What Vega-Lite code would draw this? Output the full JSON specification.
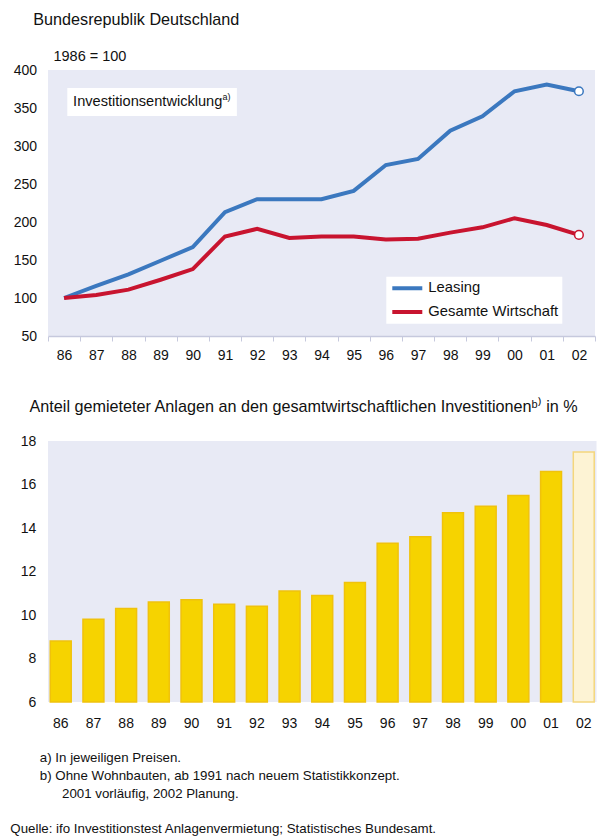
{
  "$schema": "https://vega.github.io/schema/vega-lite/v6.json",
  "background": "white",
  "padding": {"left": 10, "top": 12, "right": 0, "bottom": 4},
  "config": {
    "font": "Liberation Sans",
    "view": {"fill": "#e8eaf5", "stroke": null},
    "axis": {"labelColor": "#111111", "labelFontSize": 14, "grid": false, "title": null, "labelOverlap": false, "labelFlush": false},
    "title": {"color": "#111111", "subtitleColor": "#111111", "fontWeight": "normal"}
  },
  "datasets": {
    "index": [
      {"year": 1986, "serie": "Leasing", "value": 100},
      {"year": 1987, "serie": "Leasing", "value": 116},
      {"year": 1988, "serie": "Leasing", "value": 131},
      {"year": 1989, "serie": "Leasing", "value": 149},
      {"year": 1990, "serie": "Leasing", "value": 167},
      {"year": 1991, "serie": "Leasing", "value": 213},
      {"year": 1992, "serie": "Leasing", "value": 230},
      {"year": 1993, "serie": "Leasing", "value": 230},
      {"year": 1994, "serie": "Leasing", "value": 230},
      {"year": 1995, "serie": "Leasing", "value": 241},
      {"year": 1996, "serie": "Leasing", "value": 275},
      {"year": 1997, "serie": "Leasing", "value": 283},
      {"year": 1998, "serie": "Leasing", "value": 320},
      {"year": 1999, "serie": "Leasing", "value": 339},
      {"year": 2000, "serie": "Leasing", "value": 372},
      {"year": 2001, "serie": "Leasing", "value": 381},
      {"year": 2002, "serie": "Leasing", "value": 372},
      {"year": 1986, "serie": "Gesamte Wirtschaft", "value": 100},
      {"year": 1987, "serie": "Gesamte Wirtschaft", "value": 104},
      {"year": 1988, "serie": "Gesamte Wirtschaft", "value": 111},
      {"year": 1989, "serie": "Gesamte Wirtschaft", "value": 124},
      {"year": 1990, "serie": "Gesamte Wirtschaft", "value": 138},
      {"year": 1991, "serie": "Gesamte Wirtschaft", "value": 181},
      {"year": 1992, "serie": "Gesamte Wirtschaft", "value": 191},
      {"year": 1993, "serie": "Gesamte Wirtschaft", "value": 179},
      {"year": 1994, "serie": "Gesamte Wirtschaft", "value": 181},
      {"year": 1995, "serie": "Gesamte Wirtschaft", "value": 181},
      {"year": 1996, "serie": "Gesamte Wirtschaft", "value": 177},
      {"year": 1997, "serie": "Gesamte Wirtschaft", "value": 178},
      {"year": 1998, "serie": "Gesamte Wirtschaft", "value": 186},
      {"year": 1999, "serie": "Gesamte Wirtschaft", "value": 193},
      {"year": 2000, "serie": "Gesamte Wirtschaft", "value": 205},
      {"year": 2001, "serie": "Gesamte Wirtschaft", "value": 196},
      {"year": 2002, "serie": "Gesamte Wirtschaft", "value": 183}
    ],
    "anteil": [
      {"year": 1986, "value": 8.8, "typ": "Ist"},
      {"year": 1987, "value": 9.8, "typ": "Ist"},
      {"year": 1988, "value": 10.3, "typ": "Ist"},
      {"year": 1989, "value": 10.6, "typ": "Ist"},
      {"year": 1990, "value": 10.7, "typ": "Ist"},
      {"year": 1991, "value": 10.5, "typ": "Ist"},
      {"year": 1992, "value": 10.4, "typ": "Ist"},
      {"year": 1993, "value": 11.1, "typ": "Ist"},
      {"year": 1994, "value": 10.9, "typ": "Ist"},
      {"year": 1995, "value": 11.5, "typ": "Ist"},
      {"year": 1996, "value": 13.3, "typ": "Ist"},
      {"year": 1997, "value": 13.6, "typ": "Ist"},
      {"year": 1998, "value": 14.7, "typ": "Ist"},
      {"year": 1999, "value": 15.0, "typ": "Ist"},
      {"year": 2000, "value": 15.5, "typ": "Ist"},
      {"year": 2001, "value": 16.6, "typ": "Ist"},
      {"year": 2002, "value": 17.5, "typ": "Planung"}
    ]
  },
  "title": {
    "text": [
      "\u200b\u00a0\u00a0\u00a0\u00a0\u00a0\u00a0\u00a0\u00a0a) In jeweiligen Preisen.",
      "\u200b\u00a0\u00a0\u00a0\u00a0\u00a0\u00a0\u00a0\u00a0b) Ohne Wohnbauten, ab 1991 nach neuem Statistikkonzept.",
      "\u200b\u00a0\u00a0\u00a0\u00a0\u00a0\u00a0\u00a0\u00a0\u00a0\u00a0\u00a0\u00a0\u00a0\u00a02001 vorläufig, 2002 Planung.",
      "\u200b\u00a0",
      "Quelle: ifo Investitionstest Anlagenvermietung; Statistisches Bundesamt."
    ],
    "orient": "bottom",
    "anchor": "start",
    "frame": "bounds",
    "dx": -2.7,
    "offset": 21,
    "fontSize": 13.3,
    "lineHeight": 17.8
  },
  "spacing": 36,
  "vconcat": [
    {
      "width": 547,
      "height": 266,
      "title": {
        "text": "Bundesrepublik Deutschland",
        "subtitle": "\u200b\u00a0\u00a0\u00a0\u00a0\u00a01986 = 100",
        "anchor": "start",
        "frame": "group",
        "dx": -14.7,
        "fontSize": 16.2,
        "subtitleFontSize": 14.5,
        "subtitlePadding": 21,
        "offset": 0
      },
      "layer": [
        {
          "data": {"name": "index"},
          "mark": {"type": "line", "strokeWidth": 4},
          "encoding": {
            "x": {
              "field": "year", "type": "quantitative",
              "scale": {"domain": [1985.5, 2002.5], "nice": false, "zero": false},
              "axis": {
                "values": [1985.5, 1986, 1986.5, 1987, 1987.5, 1988, 1988.5, 1989, 1989.5, 1990, 1990.5, 1991, 1991.5, 1992, 1992.5, 1993, 1993.5, 1994, 1994.5, 1995, 1995.5, 1996, 1996.5, 1997, 1997.5, 1998, 1998.5, 1999, 1999.5, 2000, 2000.5, 2001, 2001.5, 2002, 2002.5],
                "tickCount": 100,
                "labelExpr": "datum.value % 1 == 0 ? format(datum.value % 100, '02d') : ''",
                "tickOpacity": {"condition": {"test": "datum.value % 1 != 0", "value": 1}, "value": 0},
                "tickSize": 5,
                "tickColor": "#c6c9dd",
                "domainColor": "#c6c9dd",
                "domainWidth": 1.5,
                "labelPadding": 7,
                "labelOverlap": false,
                "labelFlush": false
              }
            },
            "y": {
              "field": "value", "type": "quantitative",
              "scale": {"domain": [50, 400], "nice": false, "zero": false},
              "axis": {
                "values": [50, 100, 150, 200, 250, 300, 350, 400],
                "tickCount": 100,
                "format": "d",
                "domain": false, "ticks": false, "labelOverlap": false,
                "labelPadding": 11.5, "minExtent": 35, "maxExtent": 35
              }
            },
            "color": {
              "field": "serie", "type": "nominal",
              "scale": {"domain": ["Leasing", "Gesamte Wirtschaft"], "range": ["#3b78bf", "#c8142f"]},
              "legend": {
                "title": null,
                "orient": "none",
                "legendX": 338.3,
                "legendY": 206.7,
                "fillColor": "white",
                "padding": 4,
                "symbolType": "stroke",
                "symbolSize": 900,
                "symbolStrokeWidth": 4,
                "clipHeight": 15,
                "rowPadding": 7.7,
                "labelFontSize": 14.8,
                "labelOffset": 4,
                "labelColor": "#111111"
              }
            }
          }
        },
        {
          "data": {"name": "index"},
          "transform": [{"filter": "datum.year == 2002"}],
          "mark": {"type": "point", "filled": false, "fill": "white", "fillOpacity": 1, "opacity": 1, "size": 75, "strokeWidth": 1.5},
          "encoding": {
            "x": {"field": "year", "type": "quantitative"},
            "y": {"field": "value", "type": "quantitative"},
            "color": {"field": "serie", "type": "nominal"}
          }
        },
        {
          "data": {"values": [{}]},
          "mark": {"type": "rect", "color": "white"},
          "encoding": {
            "x": {"datum": 1986.1, "type": "quantitative"},
            "x2": {"datum": 1991.37},
            "y": {"datum": 339.5, "type": "quantitative"},
            "y2": {"datum": 376.3}
          }
        },
        {
          "data": {"values": [{}]},
          "mark": {"type": "text", "text": "Investitionsentwicklung", "align": "left", "baseline": "middle", "fontSize": 14.6, "color": "#111111"},
          "encoding": {
            "x": {"datum": 1986.28, "type": "quantitative"},
            "y": {"datum": 357.9, "type": "quantitative"}
          }
        },
        {
          "data": {"values": [{}]},
          "mark": {"type": "text", "text": "a)", "align": "left", "baseline": "middle", "fontSize": 9, "color": "#111111"},
          "encoding": {
            "x": {"datum": 1990.92, "type": "quantitative"},
            "y": {"datum": 364.5, "type": "quantitative"}
          }
        }
      ]
    },
    {
      "width": 548.5,
      "height": 261,
      "title": {
        "text": "Anteil gemieteter Anlagen an den gesamtwirtschaftlichen Investitionenᵇ⁾ in %",
        "anchor": "start",
        "frame": "group",
        "dx": -18.5,
        "fontSize": 16.2,
        "offset": 19
      },
      "data": {"name": "anteil"},
      "mark": {"type": "bar", "strokeWidth": 1.5},
      "encoding": {
        "x": {
          "field": "year", "type": "ordinal",
          "scale": {"paddingInner": 0.36, "paddingOuter": 0.07},
          "axis": {
            "labelExpr": "format(datum.value % 100, '02d')",
            "labelAngle": 0, "domain": false, "ticks": false, "labelPadding": 14
          }
        },
        "y": {
          "field": "value", "type": "quantitative",
          "scale": {"domain": [6, 18], "nice": false, "zero": false},
          "axis": {
            "values": [6, 8, 10, 12, 14, 16, 18],
            "tickCount": 100,
            "format": "d",
            "domain": false, "ticks": false,
            "labelPadding": 12.2, "minExtent": 33, "maxExtent": 33
          }
        },
        "y2": {"datum": 6},
        "fill": {
          "field": "typ", "type": "nominal",
          "scale": {"domain": ["Ist", "Planung"], "range": ["#f6d300", "#fdf3d4"]},
          "legend": null
        },
        "stroke": {
          "field": "typ", "type": "nominal",
          "scale": {"domain": ["Ist", "Planung"], "range": ["#f0c20c", "#f4d67c"]},
          "legend": null
        }
      }
    }
  ]
}
